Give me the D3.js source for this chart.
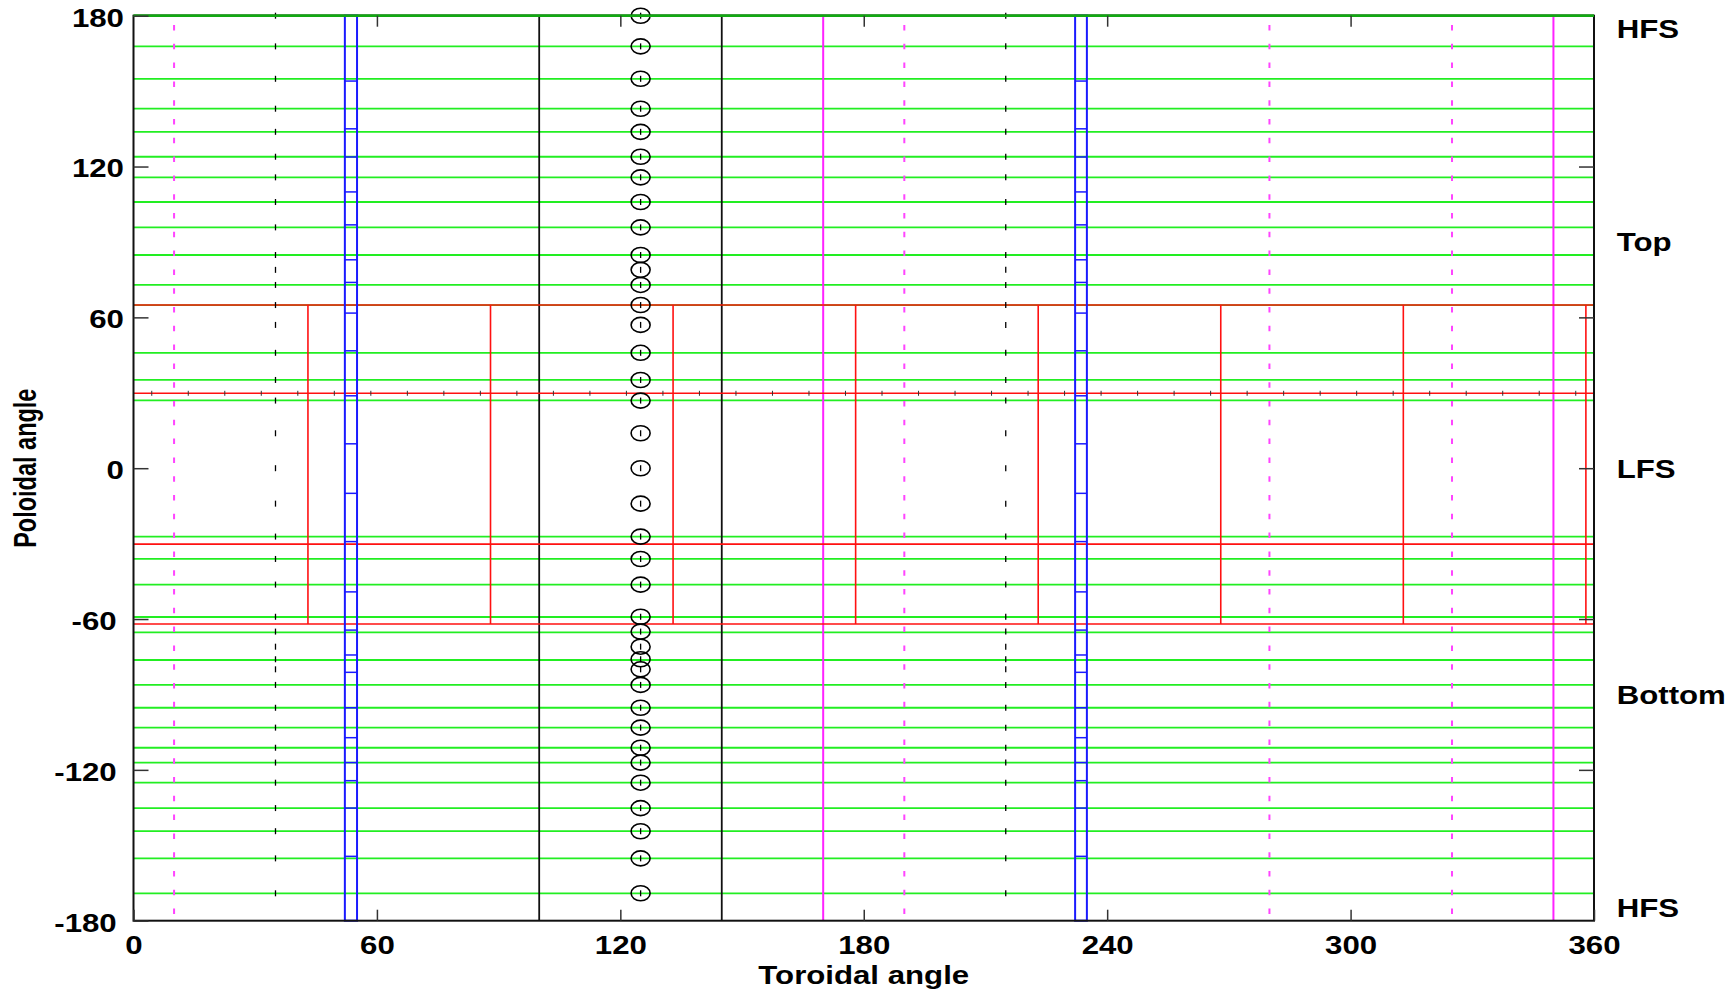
<!DOCTYPE html>
<html>
<head>
<meta charset="utf-8">
<script src="https://cdn.jsdelivr.net/npm/d3@7"></script>
<style>
  body { margin: 0; background: #fff; }
  text { font-family: "Liberation Sans", Arial, Helvetica, sans-serif; font-weight: bold; fill: #000; }
</style>
</head>
<body>
<svg id="chart" width="1736" height="990"></svg>
<script>
// Axis ticks
var xTicks = [0, 60, 120, 180, 240, 300, 360];
var yTicks = [180, 120, 60, 0, -60, -120, -180];

// Poloidal positions of the green lines
var greenPol = [180, 167.8, 154.9, 143.0, 133.8, 123.9, 115.7, 105.9, 95.8, 84.8, 72.9, 64.9,
  45.9, 35.1, 27.0, -27.2, -36.1, -46.3, -59.2, -65.3, -76.3, -86.2, -95.3, -103.2,
  -111.2, -117.1, -125.1, -135.2, -144.4, -155.2, -169.1];

// Poloidal positions of the probes (circles and | markers)
var probePol = [180, 167.8, 154.9, 143.0, 133.8, 123.9, 115.7, 105.9, 95.8, 84.8, 78.9, 72.9,
  64.9, 57.0, 45.9, 35.1, 26.9, 13.9, 0, -14.1, -27.2, -36.1, -46.3, -59.1, -65.0, -71.0,
  -76.0, -80.0, -86.2, -95.3, -103.2, -111.2, -117.1, -125.1, -135.2, -144.4, -155.2, -169.1];
var markerTor = [35, 125, 215];
var circleTor = [125];

// Vertical lines (toroidal angle)
var blackTor = [100, 145];
var magentaTor = [170, 350];
var magentaDashTor = [10, 190, 280, 325];

// Blue columns and their divisions
var blueLeft = [52.1, 232.1];
var blueRight = [55.1, 235.0];
var blueDivPol = [154, 135, 123.8, 109.9, 96.8, 82.9, 73.9, 61.7, 46.7, 28.8, 9.7, -10.0,
  -29.2, -49.2, -64.4, -74.3, -81.2, -95.3, -107.2, -117.1, -124.3, -135.2, -154.4];

// Red lines
var redHorizPol = [64.9, 29.8, -30.2, -62.0];
var redVertTor = [43, 88, 133, 178, 223, 268, 313, 358];
var redTop = 64.9, redBottom = -62.0;
var redTickPol = 29.8;
var redTickTor = [4.5, 13.5, 22.5, 31.5, 40.5, 49.5, 58.5, 67.5, 76.5, 85.5, 94.5, 103.5,
  112.5, 121.5, 130.5, 139.5, 148.5, 157.5, 166.5, 175.5, 184.5, 193.5, 202.5, 211.5,
  220.5, 229.5, 238.5, 247.5, 256.5, 265.5, 274.5, 283.5, 292.5, 301.5, 310.5, 319.5,
  328.5, 337.5, 346.5, 355.5];

// Labels on the right side
var sideText = ["HFS", "Top", "LFS", "Bottom", "HFS"];
var sidePol = [175, 90, 0, -90, -175];

var svg = d3.select("#chart");

var x = d3.scaleLinear().domain([0, 360]).range([133.5, 1594]);
var y = d3.scaleLinear().domain([-180, 180]).range([920.7, 15.7]);

var plot = svg.append("g");

// green lines
plot.selectAll(".green").data(greenPol).enter().append("line")
  .attr("x1", x(0)).attr("x2", x(360))
  .attr("y1", function(d) { return y(d); }).attr("y2", function(d) { return y(d); })
  .attr("stroke", function(d) { return d === 180 ? "#12a812" : "#22ee22"; })
  .attr("stroke-width", function(d) { return d === 180 ? 2.5 : 1.8; });

// dashed magenta lines
plot.selectAll(".mdash").data(magentaDashTor).enter().append("line")
  .attr("x1", function(d) { return x(d); }).attr("x2", function(d) { return x(d); })
  .attr("y1", y(180)).attr("y2", y(-180))
  .attr("stroke", "#ff44ff").attr("stroke-width", 2)
  .attr("stroke-dasharray", "5.5,13.3").attr("stroke-dashoffset", 9.5);

// solid black verticals
plot.selectAll(".black").data(blackTor).enter().append("line")
  .attr("x1", function(d) { return x(d); }).attr("x2", function(d) { return x(d); })
  .attr("y1", y(180)).attr("y2", y(-180))
  .attr("stroke", "#111").attr("stroke-width", 1.8);

// solid magenta verticals
plot.selectAll(".mag").data(magentaTor).enter().append("line")
  .attr("x1", function(d) { return x(d); }).attr("x2", function(d) { return x(d); })
  .attr("y1", y(180)).attr("y2", y(-180))
  .attr("stroke", "#ff22ff").attr("stroke-width", 2);

// red horizontals
plot.selectAll(".redh").data(redHorizPol).enter().append("line")
  .attr("x1", x(0)).attr("x2", x(360))
  .attr("y1", function(d) { return y(d); }).attr("y2", function(d) { return y(d); })
  .attr("stroke", "#ff1111").attr("stroke-width", 1.6);

// red verticals
plot.selectAll(".redv").data(redVertTor).enter().append("line")
  .attr("x1", function(d) { return x(d); }).attr("x2", function(d) { return x(d); })
  .attr("y1", y(redTop)).attr("y2", y(redBottom))
  .attr("stroke", "#ff1111").attr("stroke-width", 1.6);

// small ticks along red line
plot.selectAll(".redtick").data(redTickTor).enter().append("line")
  .attr("x1", function(d) { return x(d); }).attr("x2", function(d) { return x(d); })
  .attr("y1", y(redTickPol) - 2.5).attr("y2", y(redTickPol) + 2.5)
  .attr("stroke", "#333").attr("stroke-width", 1);

// blue columns
blueLeft.forEach(function(l, i) {
  var r = blueRight[i];
  plot.append("rect")
    .attr("x", x(l)).attr("y", y(180))
    .attr("width", x(r) - x(l)).attr("height", y(-180) - y(180))
    .attr("fill", "none").attr("stroke", "#1a1aff").attr("stroke-width", 2);
  plot.selectAll(".bdiv" + i).data(blueDivPol).enter().append("line")
    .attr("x1", x(l)).attr("x2", x(r))
    .attr("y1", function(d) { return y(d); }).attr("y2", function(d) { return y(d); })
    .attr("stroke", "#1a1aff").attr("stroke-width", 1.5);
});

// probe markers: | at each toroidal position
markerTor.forEach(function(t) {
  plot.selectAll(".pm" + t).data(probePol).enter().append("line")
    .attr("x1", x(t)).attr("x2", x(t))
    .attr("y1", function(d) { return y(d) - 3; }).attr("y2", function(d) { return y(d) + 3; })
    .attr("stroke", "#000").attr("stroke-width", 1.3);
});

// probe circles
circleTor.forEach(function(t) {
  plot.selectAll(".pc" + t).data(probePol).enter().append("ellipse")
    .attr("cx", x(t)).attr("cy", function(d) { return y(d); })
    .attr("rx", 9.5).attr("ry", 7.5)
    .attr("fill", "none").attr("stroke", "#000").attr("stroke-width", 1.6);
});

// axes box
svg.append("rect")
  .attr("x", x(0)).attr("y", y(180))
  .attr("width", x(360) - x(0)).attr("height", y(-180) - y(180))
  .attr("fill", "none").attr("stroke", "#111").attr("stroke-width", 2);
// top edge stays green like the reference
svg.append("line")
  .attr("x1", x(0)).attr("x2", x(360)).attr("y1", y(180)).attr("y2", y(180))
  .attr("stroke", "#12a812").attr("stroke-width", 2.5);

// plain hyphen for negatives, as in the reference
var fmt = function(d) { return String(d); };

// axes with inward ticks
var gx = svg.append("g").attr("transform", "translate(0," + y(-180) + ")")
  .call(d3.axisBottom(x).tickValues(xTicks).tickFormat(fmt).tickSizeInner(-11).tickSizeOuter(0).tickPadding(15.3));
var gxt = svg.append("g").attr("transform", "translate(0," + y(180) + ")")
  .call(d3.axisTop(x).tickValues(xTicks.slice(1, -1)).tickSizeInner(-11).tickSizeOuter(0).tickFormat(""));
var gy = svg.append("g").attr("transform", "translate(" + x(0) + ",0)")
  .call(d3.axisLeft(y).tickValues(yTicks).tickFormat(fmt).tickSizeInner(-15).tickSizeOuter(0).tickPadding(8));
var gyr = svg.append("g").attr("transform", "translate(" + x(360) + ",0)")
  .call(d3.axisRight(y).tickValues(yTicks.slice(1, -1)).tickSizeInner(-15).tickSizeOuter(0).tickFormat(""));

[gx, gxt, gy, gyr].forEach(function(g) {
  g.select(".domain").remove();
  g.selectAll(".tick line").attr("stroke", "#333").attr("stroke-width", 1.5);
});
gxt.selectAll(".tick text").remove();
gyr.selectAll(".tick text").remove();

gx.selectAll(".tick text")
  .attr("font-size", 26).attr("font-family", null).attr("fill", "#000")
  .attr("transform", "scale(1.2,1)");
gy.selectAll(".tick text")
  .attr("font-size", 26).attr("font-family", null).attr("fill", "#000")
  .attr("dy", "0.4em")
  .attr("dx", function(d) { return d < 0 ? -6 : 0; })
  .attr("transform", "scale(1.2,1)");

// axis titles
svg.append("text")
  .attr("transform", "translate(" + (x(0) + x(360)) / 2 + ",984) scale(1.2,1)")
  .attr("text-anchor", "middle").attr("font-size", 26)
  .text("Toroidal angle");

svg.append("text")
  .attr("transform", "translate(36," + y(0) + ") rotate(-90) scale(1,1.3)")
  .attr("text-anchor", "middle").attr("font-size", 23.5)
  .text("Poloidal angle");

// right side labels
svg.selectAll(".side").data(sideText).enter().append("text")
  .attr("transform", function(d, i) { return "translate(1616.7," + (y(sidePol[i]) + 9.3) + ") scale(1.2,1)"; })
  .attr("font-size", 26)
  .text(function(d) { return d; });
</script>
</body>
</html>
